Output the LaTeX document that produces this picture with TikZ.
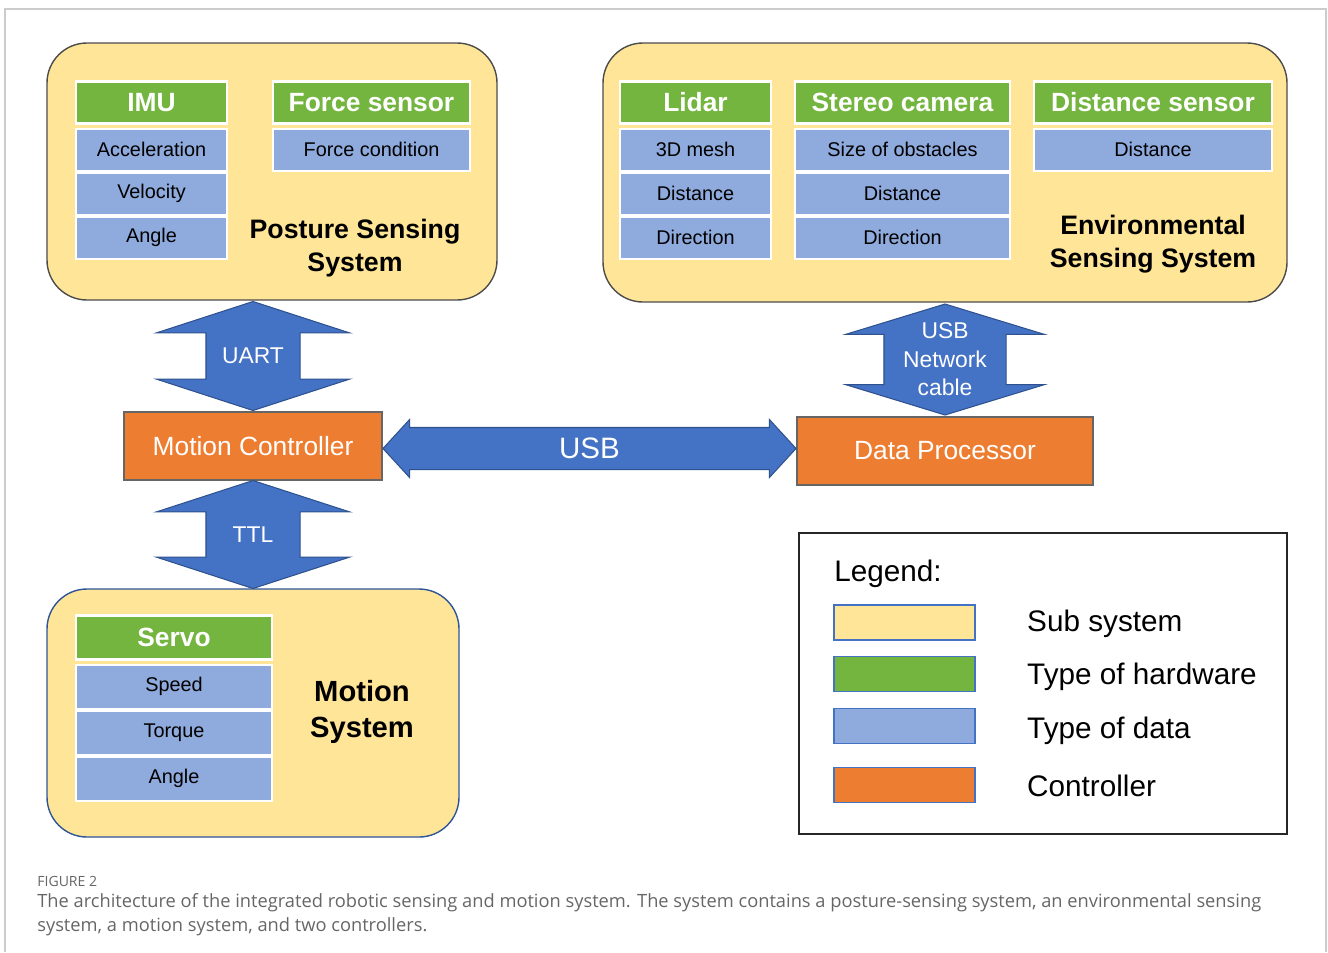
\documentclass[tikz,border=0pt]{standalone}
\usepackage{fontspec}
\setmainfont{Liberation Sans}
\newfontfamily\capfont{Open Sans}
\usetikzlibrary{shapes.arrows, positioning, calc}

\definecolor{subyellow}{HTML}{FFE597}
\definecolor{hwgreen}{HTML}{74B540}
\definecolor{datablue}{HTML}{8FAADC}
\definecolor{ctrlorange}{HTML}{ED7D31}
\definecolor{linkblue}{HTML}{4472C4}
\definecolor{linkedge}{HTML}{2F528F}
\definecolor{motionedge}{HTML}{2F5597}
\definecolor{framegray}{HTML}{CCCCCC}
\definecolor{capgray}{HTML}{666666}

\tikzstyle{subsystem} = [rectangle, rounded corners=0.8cm, draw=black!70, line width=0.8pt, fill=subyellow]
\tikzstyle{hardware} = [rectangle, minimum height=0.84cm, inner sep=2pt, text centered, draw=white, line width=1.2pt, fill=hwgreen, text=white, font=\fontsize{15}{18}\selectfont\bfseries]
\tikzstyle{datatype} = [rectangle, minimum height=0.84cm, inner sep=2pt, text centered, draw=white, line width=1.2pt, fill=datablue, font=\fontsize{11.3}{13}\selectfont]
\tikzstyle{title} = [align=center, inner sep=0pt, font=\fontsize{15.2}{18.7}\selectfont\bfseries]
\tikzstyle{controller} = [rectangle, minimum height=1.36cm, text centered, draw=black!60, line width=0.8pt, fill=ctrlorange, text=white, font=\fontsize{15}{18}\selectfont]
\tikzstyle{vlink} = [double arrow, rotate=90, draw=linkedge, line width=0.6pt, fill=linkblue, inner xsep=0pt, double arrow head indent=0pt]
\tikzstyle{hlink} = [double arrow, draw=linkedge, line width=0.6pt, fill=linkblue, inner xsep=0pt, inner ysep=0.41cm, double arrow head indent=0pt, minimum height=8.26cm, minimum width=1.14cm, double arrow head extend=0.16cm, double arrow tip angle=95]
\tikzstyle{linktext} = [text=white, align=center, inner sep=0pt, font=\fontsize{13}{16.2}\selectfont]
\tikzstyle{swatch} = [rectangle, minimum width=2.82cm, minimum height=0.7cm, draw=linkblue, line width=1pt]
\tikzstyle{legendtext} = [inner sep=0pt, font=\fontsize{16.9}{20}\selectfont]

\begin{document}
\begin{tikzpicture}

\useasboundingbox (0,0) rectangle (26.56,-19.04);
\draw [framegray, line width=0.8pt] (0.1,-19.04) -- (0.1,-0.18) -- (26.52,-0.18) -- (26.52,-19.04);

% posture sensing system
\node (posture) [subsystem, minimum width=9cm, minimum height=5.14cm] at (5.44,-3.43) {};
\node (imu) [hardware, minimum width=3.02cm] at (3.03,-2.05) {IMU};
\node (acc) [datatype, minimum width=3.02cm, below=0.06cm of imu] {Acceleration};
\node (vel) [datatype, minimum width=3.02cm, below=0pt of acc] {Velocity};
\node (ang1) [datatype, minimum width=3.02cm, below=0pt of vel] {Angle};
\node (force) [hardware, minimum width=3.94cm] at (7.43,-2.05) {Force sensor};
\node (fcond) [datatype, minimum width=3.94cm, below=0.06cm of force] {Force condition};
\node (posttitle) [title] at (7.1,-4.96) {Posture Sensing\\System};

% environmental sensing system
\node (env) [subsystem, minimum width=13.68cm, minimum height=5.18cm] at (18.9,-3.45) {};
\node (lidar) [hardware, minimum width=3.02cm] at (13.91,-2.05) {Lidar};
\node (mesh) [datatype, minimum width=3.02cm, below=0.06cm of lidar] {3D mesh};
\node (ldist) [datatype, minimum width=3.02cm, below=0pt of mesh] {Distance};
\node (ldir) [datatype, minimum width=3.02cm, below=0pt of ldist] {Direction};
\node (stereo) [hardware, minimum width=4.3cm] at (18.05,-2.05) {Stereo camera};
\node (obst) [datatype, minimum width=4.3cm, below=0.06cm of stereo] {Size of obstacles};
\node (sdist) [datatype, minimum width=4.3cm, below=0pt of obst] {Distance};
\node (sdir) [datatype, minimum width=4.3cm, below=0pt of sdist] {Direction};
\node (dsens) [hardware, minimum width=4.76cm] at (23.06,-2.05) {Distance sensor};
\node (ddist) [datatype, minimum width=4.76cm, below=0.06cm of dsens] {Distance};
\node (envtitle) [title] at (23.06,-4.89) {Environmental\\Sensing System};

% controllers
\node (mctrl) [controller, minimum width=5.16cm] at (5.06,-8.92) {Motion Controller};
\node (dproc) [controller, minimum width=5.92cm] at (18.9,-9.02) {Data Processor};

% motion system
\node (motion) [subsystem, draw=motionedge, minimum width=8.24cm, minimum height=4.96cm] at (5.06,-14.26) {};
\node (servo) [hardware, minimum width=3.92cm, minimum height=0.88cm] at (3.48,-12.75) {Servo};
\node (speed) [datatype, minimum width=3.92cm, minimum height=0.88cm, below=0.06cm of servo] {Speed};
\node (torque) [datatype, minimum width=3.92cm, minimum height=0.88cm, below=0pt of speed] {Torque};
\node (ang2) [datatype, minimum width=3.92cm, minimum height=0.88cm, below=0pt of torque] {Angle};
\node (motitle) [title, font=\fontsize{16.6}{20.4}\selectfont\bfseries] at (7.24,-14.24) {Motion\\System};

% links
\node (uart) [vlink, minimum height=2.18cm, minimum width=3.84cm, inner ysep=0.93cm, double arrow head extend=0.99cm, double arrow tip angle=144] at ($(mctrl.north)!0.5!(mctrl.north|-posture.south)$) {};
\node (uarttext) [linktext] at (uart) {UART};
\node (ttl) [vlink, minimum height=2.16cm, minimum width=3.84cm, inner ysep=0.93cm, double arrow head extend=0.99cm, double arrow tip angle=144] at ($(mctrl.south)!0.5!(mctrl.south|-motion.north)$) {};
\node (ttltext) [linktext] at (ttl) {TTL};
\node (net) [vlink, minimum height=2.22cm, minimum width=3.96cm, inner ysep=1.21cm, double arrow head extend=0.77cm, double arrow tip angle=146] at ($(dproc.north)!0.5!(dproc.north|-env.south)$) {};
\node (nettext) [linktext] at (net) {USB\\Network\\cable};
\node (usb) [hlink] at ($(mctrl.east)!0.5!(dproc.west)$) {};
\node (usbtext) [linktext, font=\fontsize{16.8}{20}\selectfont] at (usb) {USB};

% legend
\node (legend) [rectangle, draw=black!85, line width=1.1pt, minimum width=9.76cm, minimum height=6.02cm] at (20.86,-13.67) {};
\node (legtitle) [legendtext, anchor=west] at (16.68,-11.48) {Legend:};
\node (sw1) [swatch, fill=subyellow] at (18.09,-12.45) {};
\node (sw2) [swatch, fill=hwgreen] at (18.09,-13.48) {};
\node (sw3) [swatch, fill=datablue] at (18.09,-14.52) {};
\node (sw4) [swatch, fill=ctrlorange] at (18.09,-15.7) {};
\node (lab1) [legendtext, right=1.02cm of sw1, yshift=-0.03cm] {Sub system};
\node (lab2) [legendtext, right=1.02cm of sw2, yshift=-0.05cm] {Type of hardware};
\node (lab3) [legendtext, right=1.02cm of sw3, yshift=-0.1cm] {Type of data};
\node (lab4) [legendtext, right=1.02cm of sw4, yshift=-0.02cm] {Controller};

% caption
\node (figlabel) [anchor=west, inner sep=0pt, text=capgray, font=\capfont\fontsize{8}{9}\selectfont] at (0.74,-17.62) {FIGURE 2};
\node (caption) [anchor=west, align=left, inner sep=0pt, text=capgray, font=\capfont\fontsize{10.4}{13.6}\selectfont] at (0.74,-18.3) {The architecture of the integrated robotic sensing and motion system. The system contains a posture-sensing system, an environmental sensing\\system, a motion system, and two controllers.};

\end{tikzpicture}
\end{document}
